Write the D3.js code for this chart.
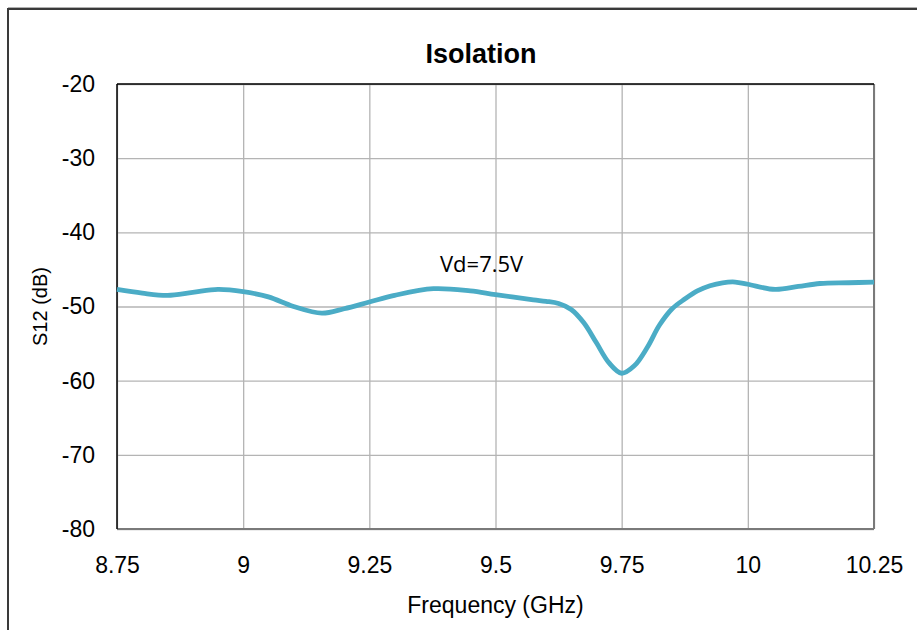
<!DOCTYPE html>
<html>
<head>
<meta charset="utf-8">
<script src="https://cdn.jsdelivr.net/npm/d3@7"></script>
<style>
  body { margin: 0; background: #fff; }
  text { font-family: "Liberation Sans", Arial, sans-serif; fill: #000; }
</style>
</head>
<body>
<div id="chart"></div>
<script>
const width = 917;
const height = 630;
const margin = {top: 84, right: 43, bottom: 101, left: 117};
const innerWidth = width - margin.left - margin.right;
const innerHeight = height - margin.top - margin.bottom;

// data
const freq = [8.75, 8.80, 8.85, 8.90, 8.95, 9.00, 9.05, 9.10, 9.156, 9.20, 9.25, 9.30, 9.377, 9.45, 9.50,
              9.575, 9.60, 9.625, 9.65, 9.675, 9.70, 9.725, 9.75, 9.775, 9.80, 9.825, 9.85, 9.875,
              9.90, 9.925, 9.95, 9.975, 10.00, 10.054, 10.10, 10.143, 10.20, 10.25];
const s12 = [-47.7, -48.2, -48.5, -48.1, -47.7, -48.0, -48.7, -50.0, -50.9, -50.3, -49.4, -48.5, -47.6, -47.9, -48.4,
             -49.1, -49.3, -49.6, -50.4, -52.2, -54.9, -57.6, -59.0, -58.0, -55.6, -52.5, -50.3, -49.0,
             -47.9, -47.2, -46.8, -46.7, -47.0, -47.7, -47.3, -46.9, -46.8, -46.7];
const xTicks = [8.75, 9, 9.25, 9.5, 9.75, 10, 10.25];
const yTicks = [-80, -70, -60, -50, -40, -30, -20];
const seriesLabel = "Vd=7.5V";

const root = d3.select("#chart")
    .append("svg")
        .attr("width", width)
        .attr("height", height);

// outer chart frame (runs off the right and bottom edges)
root.append("path")
    .attr("d", "M" + width + ",9H8V" + height)
    .attr("fill", "none")
    .attr("stroke", "#3a3a3a")
    .attr("stroke-width", 2);
root.append("line")
    .attr("x1", 8).attr("x2", width).attr("y1", 7.5).attr("y2", 7.5)
    .attr("stroke", "#b0b0b0").attr("stroke-width", 1);

const svg = root.append("g")
    .attr("transform", "translate(" + margin.left + "," + margin.top + ")");

const xScale = d3.scaleLinear()
    .domain([8.75, 10.25])
    .range([0, innerWidth]);

const yScale = d3.scaleLinear()
    .domain([-80, -20])
    .range([innerHeight, 0]);

// grid
svg.append("g")
    .attr("class", "x-grid")
    .attr("transform", "translate(0," + innerHeight + ")")
    .call(d3.axisBottom(xScale).tickValues(xTicks).tickSize(-innerHeight).tickFormat(""))
    .call(g => g.select(".domain").remove())
    .call(g => g.selectAll("text").remove())
    .call(g => g.selectAll("line").attr("stroke", "#b4b4b4").attr("stroke-width", 1.3));

svg.append("g")
    .attr("class", "y-grid")
    .call(d3.axisLeft(yScale).tickValues(yTicks).tickSize(-innerWidth).tickFormat(""))
    .call(g => g.select(".domain").remove())
    .call(g => g.selectAll("text").remove())
    .call(g => g.selectAll("line").attr("stroke", "#b4b4b4").attr("stroke-width", 1.3));

// plot borders
svg.append("line").attr("x1", innerWidth).attr("x2", innerWidth).attr("y1", 0).attr("y2", innerHeight)
    .attr("stroke", "#7a7a7a").attr("stroke-width", 2);
svg.append("line").attr("x1", 0).attr("x2", innerWidth).attr("y1", innerHeight).attr("y2", innerHeight)
    .attr("stroke", "#7a7a7a").attr("stroke-width", 2);
svg.append("line").attr("x1", 0).attr("x2", innerWidth).attr("y1", 0).attr("y2", 0)
    .attr("stroke", "#000").attr("stroke-width", 1.5);
svg.append("line").attr("x1", 0).attr("x2", 0).attr("y1", 0).attr("y2", innerHeight)
    .attr("stroke", "#000").attr("stroke-width", 1.5);

// tick labels (plain hyphen for minus, as in the original)
svg.append("g")
    .attr("class", "x-axis")
    .attr("transform", "translate(0," + innerHeight + ")")
    .call(d3.axisBottom(xScale).tickValues(xTicks).tickSize(0).tickPadding(28).tickFormat(d => String(d)))
    .call(g => g.select(".domain").remove())
    .call(g => g.selectAll("text").attr("font-size", 23).attr("fill", "#000")
        .style("font-family", "'Liberation Sans', Arial, sans-serif"));

svg.append("g")
    .attr("class", "y-axis")
    .call(d3.axisLeft(yScale).tickValues(yTicks).tickSize(0).tickPadding(22).tickFormat(d => String(d)))
    .call(g => g.select(".domain").remove())
    .call(g => g.selectAll("text").attr("font-size", 23).attr("fill", "#000")
        .style("font-family", "'Liberation Sans', Arial, sans-serif"));

// curve
const line = d3.line()
    .x((d, i) => xScale(freq[i]))
    .y(d => yScale(d))
    .curve(d3.curveCatmullRom.alpha(0.5));

svg.append("path")
    .datum(s12)
    .attr("fill", "none")
    .attr("stroke", "#4bacc6")
    .attr("stroke-width", 4.8)
    .attr("stroke-linejoin", "round")
    .attr("d", line);

// series label
svg.append("text")
    .attr("x", xScale(9.39))
    .attr("y", yScale(-45.4))
    .attr("font-size", 22)
    .style("font-family", "'Open Sans', 'DejaVu Sans', sans-serif")
    .text(seriesLabel);

// titles
root.append("text")
    .attr("x", 481)
    .attr("y", 63)
    .attr("text-anchor", "middle")
    .attr("font-size", 27)
    .attr("font-weight", "bold")
    .text("Isolation");

root.append("text")
    .attr("x", margin.left + innerWidth / 2)
    .attr("y", 613)
    .attr("text-anchor", "middle")
    .attr("font-size", 23)
    .text("Frequency (GHz)");

root.append("text")
    .attr("transform", "translate(47," + (margin.top + yScale(-50)) + ") rotate(-90)")
    .attr("text-anchor", "middle")
    .attr("font-size", 20)
    .text("S12 (dB)");
</script>
</body>
</html>
